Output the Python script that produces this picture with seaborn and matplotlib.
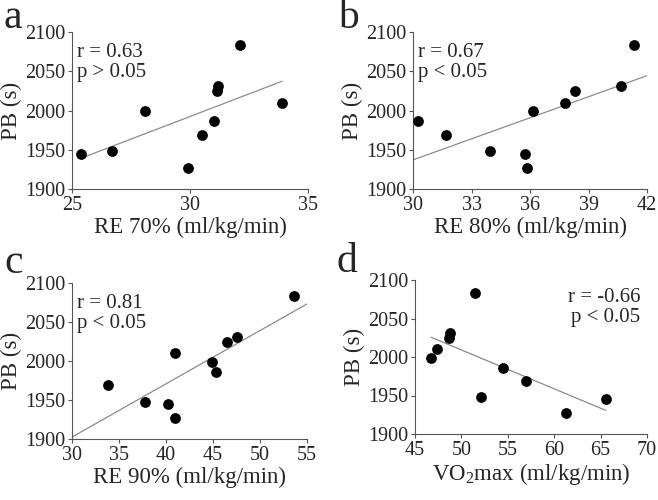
import numpy as np
import pandas as pd
import matplotlib
matplotlib.use("Agg")
import matplotlib.pyplot as plt
import seaborn as sns

# PB (s) for the ten athletes, same order in every panel
pb = [1945, 1948, 1999, 1927, 1969, 1986, 2025, 2031, 2083, 2010]
re70 = [25.4, 26.7, 28.1, 29.9, 30.5, 31.0, 31.15, 31.2, 32.1, 33.9]
re80 = [35.75, 33.96, 36.15, 35.86, 31.71, 30.26, 38.31, 40.67, 41.32, 37.77]
re90 = [40.18, 37.81, 44.85, 40.96, 33.82, 45.31, 46.44, 47.57, 53.66, 40.96]
vo2max = [65.55, 52.15, 46.72, 61.24, 56.96, 54.45, 48.66, 48.74, 51.5, 47.41]

panel_letters = ["a", "b", "c", "d"]
x_labels = ["RE 70% (ml/kg/min)", "RE 80% (ml/kg/min)",
            "RE 90% (ml/kg/min)", r"VO$_\mathregular{2}$max (ml/kg/min)"]
stats_text = ["r = 0.63\np > 0.05", "r = 0.67\np < 0.05",
              "r = 0.81\np < 0.05", "r = -0.66\np < 0.05"]
x_ticks = [[25, 30, 35], [30, 33, 36, 39, 42],
           [30, 35, 40, 45, 50, 55], [45, 50, 55, 60, 65, 70]]
y_ticks = [1900, 1950, 2000, 2050, 2100]

df = pd.DataFrame({"PB": pb, "RE70": re70, "RE80": re80, "RE90": re90, "VO2": vo2max})
x_cols = ["RE70", "RE80", "RE90", "VO2"]

sns.set_style("ticks")
plt.rcParams["font.family"] = ["Liberation Serif", "DejaVu Serif"]
plt.rcParams["mathtext.fontset"] = "custom"
plt.rcParams["mathtext.rm"] = "Liberation Serif"

fig = plt.figure(figsize=(6.58, 5), dpi=100)
rects = [[0.1094, 0.622, 0.3587, 0.314], [0.6277, 0.622, 0.3556, 0.314],
         [0.1094, 0.122, 0.3572, 0.312], [0.6307, 0.132, 0.3526, 0.308]]
truncate = [True, False, False, True]
text_pos = [(0.02, 0.93, "left"), (0.02, 0.93, "left"),
            (0.02, 0.93, "left"), (0.97, 0.95, "right")]
letter_pos = [(0.006, 0.945), (0.514, 0.944), (0.006, 0.454), (0.512, 0.456)]

for i, ax_rect in enumerate(rects):
    ax = fig.add_axes(ax_rect)
    ax.set_xlim(x_ticks[i][0], x_ticks[i][-1])
    ax.set_ylim(1900, 2100)
    sns.regplot(data=df, x=x_cols[i], y="PB", ax=ax, scatter=False, ci=None,
                truncate=truncate[i], line_kws={"color": "#8c8c8c", "lw": 0.9})
    sns.scatterplot(data=df, x=x_cols[i], y="PB", ax=ax, color="black",
                    s=60, edgecolor="black", linewidth=0, zorder=3)
    ax.set_xlim(x_ticks[i][0], x_ticks[i][-1])
    ax.set_ylim(1900, 2100)
    ax.set_xticks(x_ticks[i])
    ax.set_yticks(y_ticks)
    ax.tick_params(labelsize=14.5, length=3, width=0.8, color="#555555", pad=2)
    ax.set_xlabel(x_labels[i], fontsize=16.5, labelpad=1)
    ax.set_ylabel("PB (s)", fontsize=16.5, labelpad=2)
    sns.despine(ax=ax)
    for s in ["left", "bottom"]:
        ax.spines[s].set_color("#555555")
        ax.spines[s].set_linewidth(0.8)
    tx, ty, ha = text_pos[i]
    ax.text(tx, ty, stats_text[i], transform=ax.transAxes, ha=ha, va="top",
            fontsize=15, linespacing=1.1)
    fig.text(letter_pos[i][0], letter_pos[i][1], panel_letters[i], fontsize=30,
             ha="left", va="baseline")

fig.savefig("out.png", dpi=100)
